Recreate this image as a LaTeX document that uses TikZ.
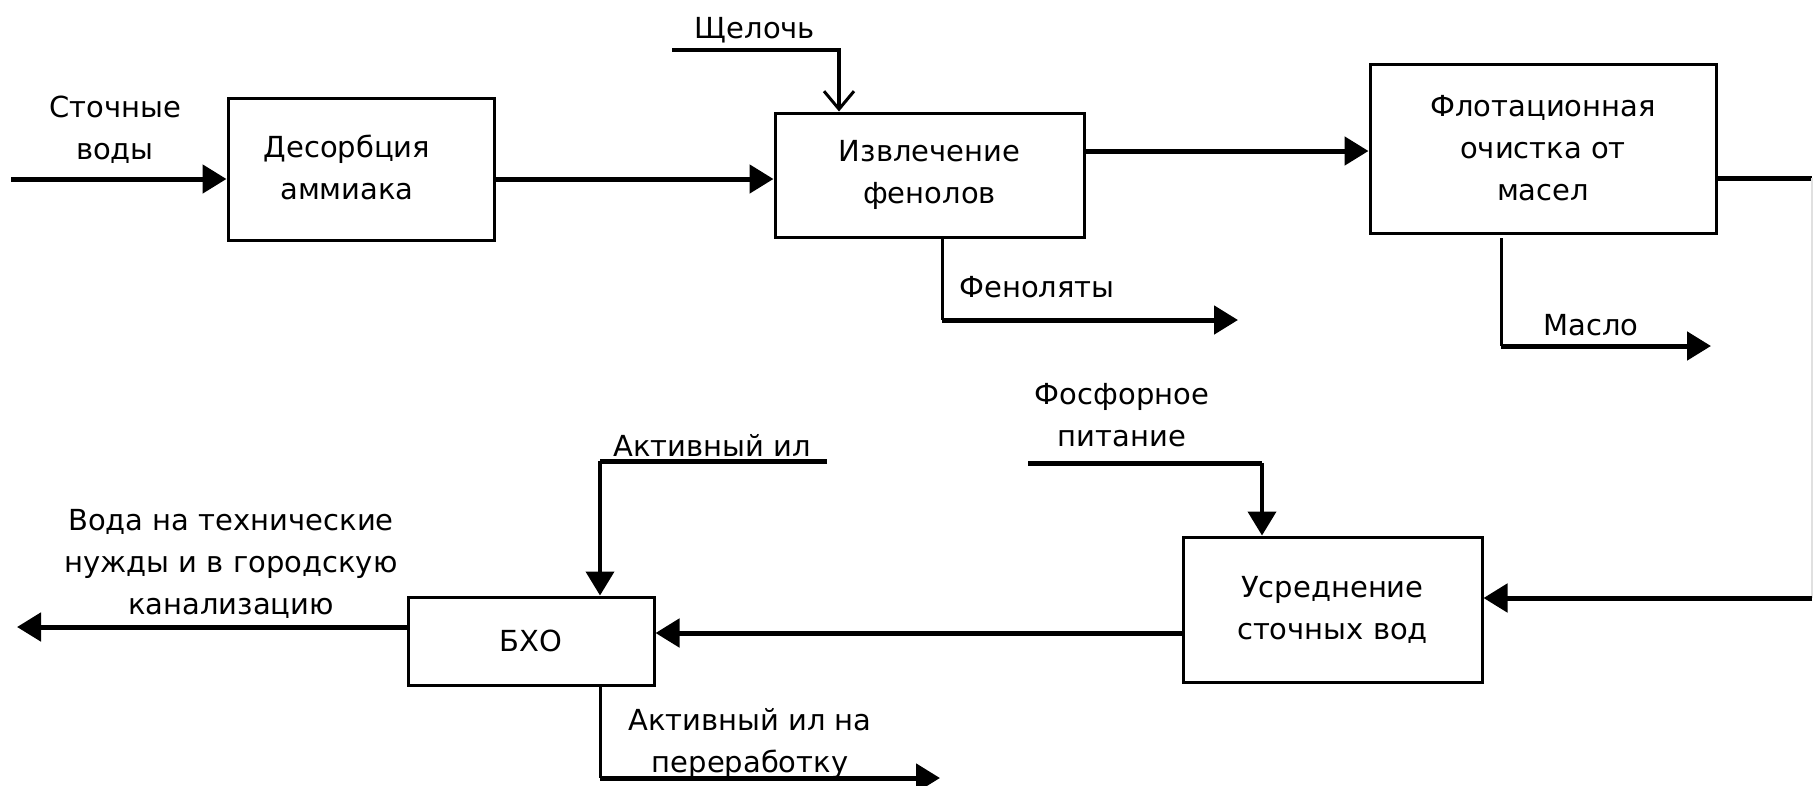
\documentclass[tikz,border=0pt]{standalone}
\usepackage{fontspec}
\setmainfont{DejaVu Sans}
\usetikzlibrary{arrows.meta}
\tikzset{
  box/.style={draw, line width=3pt, rectangle, align=center, inner sep=0pt, font=\fontsize{29}{42}\selectfont},
  lbl/.style={align=center, inner sep=0pt, font=\fontsize{29}{42}\selectfont},
  flow/.style={line width=5pt, -{Triangle[length=24pt,width=28pt]}},
  thinflow/.style={line width=4pt, -{Triangle[length=24pt,width=28pt]}},
  barbflow/.style={line width=4pt, -{Straight Barb[length=18pt,width=30pt,line width=3pt]}},
  plainline/.style={line width=5pt},
  faint/.style={line width=2pt, draw=black!12}
}
\begin{document}
\begin{tikzpicture}[x=1pt,y=-1pt]
\useasboundingbox (0,0) rectangle (1815,785);
% boxes
\node[box, minimum width=266pt, minimum height=142pt] (A) at (361,169) {};
\node[lbl] (At) at (347,167) {Десорбция\\аммиака};
\node[box, minimum width=309pt, minimum height=124pt] (B) at (929.5,175) {Извлечение\\фенолов};
\node[box, minimum width=346pt, minimum height=169pt] (C) at (1543,148.5) {Флотационная\\очистка от\\масел};
\node[box, minimum width=299pt, minimum height=145pt] (D) at (1332.5,609.5) {Усреднение\\сточных вод};
\node[box, minimum width=246pt, minimum height=88pt] (E) at (531,641) {БХО};
% free ends
\coordinate (inA) at (11,179);
\coordinate (sh) at (672,50);
\coordinate (shc) at (839,50);
\coordinate (phe) at (942,320);
\coordinate (pheEnd) at (1238,320);
\coordinate (rt) at (1812,178);
\coordinate (rb) at (1812,598);
\coordinate (oil) at (1501,346);
\coordinate (oilEnd) at (1711,346);
\coordinate (ph) at (1028,463);
\coordinate (phc) at (1262,463);
\coordinate (ai) at (827,461);
\coordinate (aic) at (600,461);
\coordinate (outE) at (17,627);
\coordinate (per) at (600,778);
\coordinate (perEnd) at (940,778);
% connectors
\draw[flow] (inA) -- (inA -| A.west);
\draw[flow] (A.east |- inA) -- (B.west |- inA);
\draw[barbflow] (sh) -- (shc) -- (shc |- B.north);
\draw[flow] (B.east |- 0,151) -- (C.west |- 0,151);
\draw[line width=3pt] (phe |- B.south) -- (phe);
\draw[flow] (phe) -- (pheEnd);
\draw[line width=3pt] (1501,238) -- (oil);
\draw[flow] (oil) -- (oilEnd);
\draw[plainline] (C.east |- rt) -- (rt);
\draw[faint] (rt) -- (rb);
\draw[flow] (rb) -- (D.east |- rb);
\draw[plainline] (ph) -- (phc);
\draw[thinflow] (phc) -- (phc |- D.north);
\draw[flow] (D.west |- 0,633) -- (E.east |- 0,633);
\draw[plainline] (ai) -- (aic);
\draw[thinflow] (aic) -- (aic |- E.north);
\draw[flow] (E.west |- outE) -- (outE);
\draw[line width=3pt] (aic |- E.south) -- (per);
\draw[flow] (per) -- (perEnd);
% labels
\node[lbl] (lin) at (115,130) {Сточные\\воды};
\node[lbl] (lsh) at (755,30) {Щелочь};
\node[lbl] (lphe) at (1037,287) {Феноляты};
\node[lbl] (loil) at (1591,325) {Масло};
\node[lbl] (lph) at (1122,415) {Фосфорное\\питание};
\node[lbl] (lai) at (712,445) {Активный ил};
\node[lbl] (lout) at (231,564) {Вода на технические\\нужды и в городскую\\канализацию};
\node[lbl] (lper) at (750,743) {Активный ил на\\переработку};
\end{tikzpicture}
\end{document}
